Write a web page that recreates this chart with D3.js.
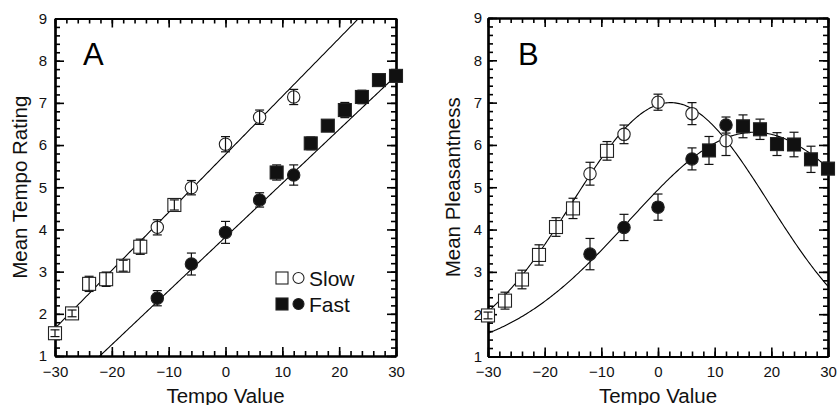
<!DOCTYPE html>
<html>
<head>
<meta charset="utf-8">
<script src="https://cdn.jsdelivr.net/npm/d3@7"></script>
<style>
body{margin:0;background:#fff;}
svg{display:block;font-family:"Liberation Sans",Arial,Helvetica,sans-serif;}
</style>
</head>
<body>
<script>
// tempo values of the markers
var tempoSlowSq=[-30,-27,-24,-21,-18,-15,-9];
var tempoCirc=[-12,-6,0,6,12];
var tempoFastSq=[9,15,18,21,24,27,30];

// panel A : mean tempo rating
var ratingSlowSq=[1.54,2.01,2.71,2.82,3.14,3.59,4.58];
var ratingSlowSqErr=[0.08,0.08,0.18,0.17,0.13,0.18,0.12];
var ratingSlowCirc=[4.05,4.99,6.02,6.66,7.14];
var ratingSlowCircErr=[0.18,0.17,0.18,0.17,0.18];
var ratingFastCirc=[2.37,3.18,3.93,4.70,5.29];
var ratingFastCircErr=[0.18,0.26,0.26,0.17,0.24];
var ratingFastSq=[5.35,6.04,6.46,6.83,7.14,7.54,7.64];
var ratingFastSqErr=[0.18,0.15,0.12,0.18,0.16,0.08,0.08];
// linear fits [intercept, slope]
var fitSlowA=[5.78,0.1375];
var fitFastA=[3.82,0.1275];

// panel B : mean pleasantness
var pleasSlowSq=[1.97,2.32,2.82,3.40,4.06,4.50,5.86];
var pleasSlowSqErr=[0.08,0.2,0.22,0.24,0.22,0.24,0.22];
var pleasSlowCirc=[5.32,6.25,7.01,6.74,6.10];
var pleasSlowCircErr=[0.27,0.22,0.19,0.26,0.35];
var pleasFastCirc=[3.42,4.05,4.53,5.67,6.47];
var pleasFastCircErr=[0.37,0.31,0.31,0.26,0.19];
var pleasFastSq=[5.87,6.44,6.37,6.02,6.01,5.66,5.44];
var pleasFastSqErr=[0.33,0.27,0.24,0.27,0.29,0.31,0.1];
// gaussian fits [base, amplitude, mean, 2*sigma^2]
var fitSlowB=[1,6.0,2.2,601];
var fitFastB=[1,5.3,17,975];

var xTicks=[-30,-20,-10,0,10,20,30];
var yTicks=[1,2,3,4,5,6,7,8,9];

var svg=d3.select("body").append("svg").attr("width",839).attr("height",405);

function zip(t,v,e){ return t.map(function(d,i){return {t:d,v:v[i],e:e[i]};}); }

function panel(o){
	var x=d3.scaleLinear().domain([-30,30]).range([o.x0,o.x1]);
	var y=d3.scaleLinear().domain([1,9]).range([o.y1,o.y0]);
	var g=svg.append("g");

	var clipId="clip"+o.name;
	svg.append("defs").append("clipPath").attr("id",clipId)
		.append("rect").attr("x",o.x0).attr("y",o.y0).attr("width",o.x1-o.x0).attr("height",o.y1-o.y0);

	var minorX=d3.range(-30,31,2), minorY=d3.range(1,9.01,0.2);
	function frame(axis,tr,vals,size,labels,pad){
		var a=axis.tickValues(vals).tickSizeInner(size).tickSizeOuter(0).tickPadding(pad||0);
		if(!labels) a.tickFormat("");
		var s=g.append("g").attr("transform",tr).call(a);
		s.select(".domain").attr("stroke-width",2.2).attr("stroke","#000");
		s.selectAll(".tick line").attr("stroke-width",1.6).attr("stroke","#000");
		s.selectAll("text").attr("font-size",15).attr("fill","#111");
		return s;
	}
	frame(d3.axisBottom(x),"translate(0,"+o.y1+")",minorX,-5,false);
	frame(d3.axisTop(x),"translate(0,"+o.y0+")",minorX,-5,false);
	frame(d3.axisLeft(y),"translate("+o.x0+",0)",minorY,-5,false);
	frame(d3.axisRight(y),"translate("+o.x1+",0)",minorY,-5,false);
	frame(d3.axisBottom(x),"translate(0,"+o.y1+")",xTicks,-9,true,10).selectAll("text").attr("dy","0.72em");
	frame(d3.axisTop(x),"translate(0,"+o.y0+")",xTicks,-9,false);
	frame(d3.axisLeft(y),"translate("+o.x0+",0)",yTicks,-9,true,o.ypad);
	frame(d3.axisRight(y),"translate("+o.x1+",0)",yTicks,-9,false);

	// fitted curves
	var ts=d3.range(-30,30.01,0.25);
	var line=d3.line().x(function(d){return x(d[0]);}).y(function(d){return y(d[1]);});
	o.fits.forEach(function(f){
		g.append("path").datum(ts.map(function(t){return [t,f(t)];}))
			.attr("d",line).attr("fill","none").attr("stroke","#000").attr("stroke-width",1.1)
			.attr("clip-path","url(#"+clipId+")");
	});

	// markers with error bars
	o.series.forEach(function(s){
		var pts=g.append("g").selectAll("g").data(s.data).enter().append("g");
		function bars(sel){
			sel.append("line").attr("x1",function(d){return x(d.t);}).attr("x2",function(d){return x(d.t);})
				.attr("y1",function(d){return y(d.v-d.e);}).attr("y2",function(d){return y(d.v+d.e);});
			[-1,1].forEach(function(k){
				sel.append("line").attr("x1",function(d){return x(d.t)-4.5;}).attr("x2",function(d){return x(d.t)+4.5;})
					.attr("y1",function(d){return y(d.v+k*d.e);}).attr("y2",function(d){return y(d.v+k*d.e);});
			});
			sel.selectAll("line").attr("stroke","#111").attr("stroke-width",1.2);
		}
		if(s.filled) bars(pts);
		if(s.shape=="sq"){
			pts.append("rect").attr("x",function(d){return x(d.t)-6.5;}).attr("y",function(d){return y(d.v)-6.5;})
				.attr("width",13).attr("height",13);
		}else{
			pts.append("circle").attr("cx",function(d){return x(d.t);}).attr("cy",function(d){return y(d.v);}).attr("r",6.2);
		}
		pts.selectAll("rect,circle").attr("fill",s.filled?"#111":"#fff").attr("stroke","#222").attr("stroke-width",1.1);
		if(!s.filled) bars(pts);
	});

	// panel letter and axis titles
	g.append("text").attr("x",o.lx).attr("y",65).attr("font-size",31).text(o.name);
	g.append("text").attr("x",(o.x0+o.x1)/2).attr("y",403).attr("text-anchor","middle")
		.attr("font-size",20.5).attr("fill","#111").text("Tempo Value");
	g.append("text").attr("transform","translate("+o.tx+","+((o.y0+o.y1)/2)+") rotate(-90)")
		.attr("text-anchor","middle").attr("font-size",20.5).attr("fill","#111").text(o.ytitle);
	return {x:x,y:y,g:g};
}

var pA=panel({
	name:"A",x0:55,x1:396,y0:18.5,y1:356,ypad:8,lx:83,tx:27,ytitle:"Mean Tempo Rating",
	fits:[function(t){return fitSlowA[0]+fitSlowA[1]*t;},function(t){return fitFastA[0]+fitFastA[1]*t;}],
	series:[
		{shape:"sq",filled:false,data:zip(tempoSlowSq,ratingSlowSq,ratingSlowSqErr)},
		{shape:"ci",filled:false,data:zip(tempoCirc,ratingSlowCirc,ratingSlowCircErr)},
		{shape:"ci",filled:true,data:zip(tempoCirc,ratingFastCirc,ratingFastCircErr)},
		{shape:"sq",filled:true,data:zip(tempoFastSq,ratingFastSq,ratingFastSqErr)}
	]
});

function gauss(p){ return function(t){ return p[0]+p[1]*Math.exp(-(t-p[2])*(t-p[2])/p[3]); }; }
var pB=panel({
	name:"B",x0:488,x1:828,y0:18,y1:356.5,ypad:6,lx:518,tx:460,ytitle:"Mean Pleasantness",
	fits:[gauss(fitSlowB),gauss(fitFastB)],
	series:[
		{shape:"sq",filled:false,data:zip(tempoSlowSq,pleasSlowSq,pleasSlowSqErr)},
		{shape:"ci",filled:false,data:zip(tempoCirc,pleasSlowCirc,pleasSlowCircErr)},
		{shape:"ci",filled:true,data:zip(tempoCirc,pleasFastCirc,pleasFastCircErr)},
		{shape:"sq",filled:true,data:zip(tempoFastSq,pleasFastSq,pleasFastSqErr)}
	]
});

// legend in panel A
var leg=svg.append("g");
[{label:"Slow",fill:"#fff",y:278},{label:"Fast",fill:"#111",y:304}].forEach(function(l){
	leg.append("rect").attr("x",276).attr("y",l.y-6).attr("width",12).attr("height",12)
		.attr("fill",l.fill).attr("stroke","#222").attr("stroke-width",1.1);
	leg.append("circle").attr("cx",298.5).attr("cy",l.y).attr("r",5.5)
		.attr("fill",l.fill).attr("stroke","#222").attr("stroke-width",1.1);
	leg.append("text").attr("x",309).attr("y",l.y+7.5).attr("font-size",21).attr("fill","#111").text(l.label);
});
</script>
</body>
</html>
